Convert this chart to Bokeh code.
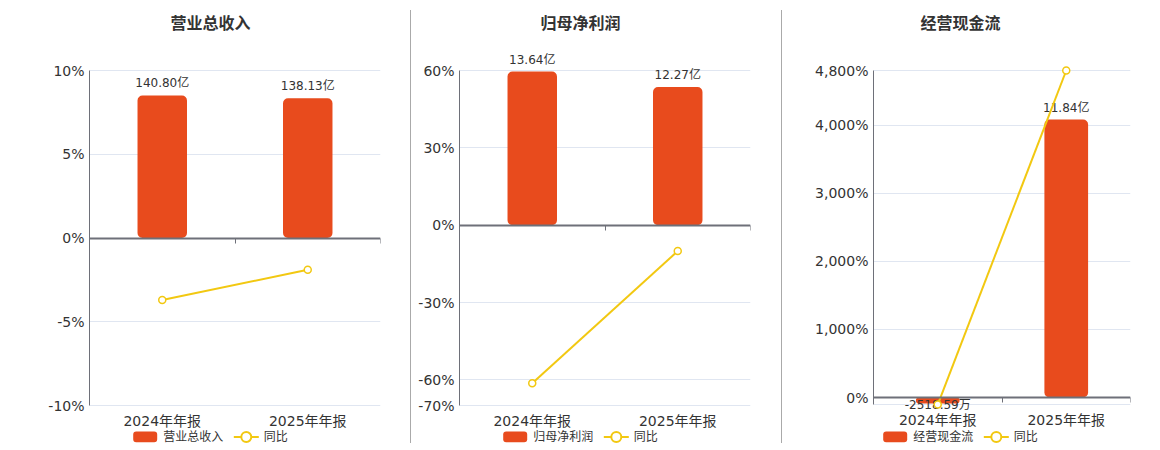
from bokeh.plotting import figure
from bokeh.models import Range1d, LinearAxis, FixedTicker, Div, Grid
from bokeh.layouts import row
from bokeh.embed import file_html
from bokeh.resources import INLINE
from bokeh.core.properties import value

# ---------------- data ----------------
categories = ["2024年年报", "2025年年报"]
yoy_name = "同比"

revenue_title = "营业总收入"
revenue = [140.80, 138.13]
revenue_labels = ["140.80亿", "138.13亿"]
revenue_yoy = [-3.70, -1.90]
revenue_ticks = [-10, -5, 0, 5, 10]
revenue_tick_labels = ["-10%", "-5%", "0%", "5%", "10%"]

profit_title = "归母净利润"
profit = [13.64, 12.27]
profit_labels = ["13.64亿", "12.27亿"]
profit_yoy = [-61.3, -10.04]
profit_ticks = [-70, -60, -30, 0, 30, 60]
profit_tick_labels = ["-70%", "-60%", "-30%", "0%", "30%", "60%"]

cashflow_title = "经营现金流"
cashflow = [-0.2519, 11.84]
cashflow_labels = ["-2518.59万", "11.84亿"]
cashflow_yoy = [-103.0, 4800.0]
cashflow_ticks = [0, 1000, 2000, 3000, 4000, 4800]
cashflow_tick_labels = ["0%", "1,000%", "2,000%", "3,000%", "4,000%", "4,800%"]

# ---------------- style ----------------
BAR_COLOR = "#E84B1D"
LINE_COLOR = "#F2C811"
AXIS_COLOR = "#6E7079"
GRID_COLOR = "#E0E6F1"
TEXT_COLOR = "#333333"
FONT = "DejaVu Sans, Noto Sans CJK SC"
FIG_H = 448
FRAME_TOP_PX = 0
FRAME_BOT_PX = 448
PLOT_TOP_PX = 70


def build_panel(title, bars, bar_labels, yoy, ticks, tick_labels,
                fig_left, fig_w, frame_left, frame_right,
                y_top, zero_px, y_bottom, bar_top, title_cx, legend_left):
    ppu = (zero_px - PLOT_TOP_PX) / y_top

    def yv(page_y):
        return (zero_px - page_y) / ppu

    def xv(page_x):
        return (page_x - frame_left) / (frame_right - frame_left) * 2.0

    y0, y1 = yv(FRAME_BOT_PX), yv(FRAME_TOP_PX)
    k = bar_top / y_top
    p = figure(width=fig_w, height=FIG_H, x_range=Range1d(0, 2), y_range=Range1d(y0, y1),
               output_backend="svg", toolbar_location=None,
               x_axis_type=None, y_axis_type=None,
               min_border_left=frame_left - fig_left,
               min_border_right=fig_left + fig_w - frame_right,
               min_border_top=0, min_border_bottom=0)
    p.outline_line_color = None
    p.extra_y_ranges = {"bar": Range1d(y0 * k, y1 * k)}

    grid_ticks = sorted(set(ticks + [y_bottom]))
    p.add_layout(Grid(dimension=1, ticker=FixedTicker(ticks=grid_ticks),
                      grid_line_color=GRID_COLOR, grid_line_width=1))

    yax = LinearAxis(ticker=FixedTicker(ticks=ticks), bounds=(y_bottom, y_top),
                     major_label_overrides={t: l for t, l in zip(ticks, tick_labels)})
    yax.axis_line_color = AXIS_COLOR
    yax.axis_line_width = 1
    yax.major_tick_line_color = None
    yax.major_tick_out = 0
    yax.major_tick_in = 0
    yax.minor_tick_line_color = None
    yax.major_label_standoff = 5
    yax.major_label_text_font = FONT
    yax.major_label_text_font_size = "14px"
    yax.major_label_text_color = TEXT_COLOR
    p.add_layout(yax, "left")

    xs = [0.5, 1.5]
    xax = LinearAxis(fixed_location=y_bottom, ticker=FixedTicker(ticks=xs),
                     major_label_overrides={x: c for x, c in zip(xs, categories)})
    xax.axis_line_color = None
    xax.major_tick_line_color = None
    xax.minor_tick_line_color = None
    xax.major_label_standoff = 1
    xax.major_label_text_font = FONT
    xax.major_label_text_font_size = "14px"
    xax.major_label_text_color = TEXT_COLOR
    p.add_layout(xax, "below")

    p.vbar(x=xs, top=bars, bottom=0, width=0.34, y_range_name="bar",
           fill_color=BAR_COLOR, line_color=None, border_radius=5)

    zax = LinearAxis(fixed_location=0, ticker=FixedTicker(ticks=[0, 1, 2]),
                     major_label_overrides={0: "", 1: "", 2: ""})
    zax.axis_line_color = AXIS_COLOR
    zax.axis_line_width = 2
    zax.major_tick_line_color = AXIS_COLOR
    zax.major_tick_out = 5
    zax.major_tick_in = 0
    zax.minor_tick_line_color = None
    zax.major_label_text_font_size = "1px"
    p.add_layout(zax, "below")

    pos = [i for i, v in enumerate(bars) if v >= 0]
    neg = [i for i, v in enumerate(bars) if v < 0]
    if pos:
        p.text(x=[xs[i] for i in pos], y=[bars[i] for i in pos], text=[bar_labels[i] for i in pos],
               y_range_name="bar", y_offset=-5, text_align="center", text_baseline="bottom",
               text_font=value(FONT), text_font_size="12px", text_color=TEXT_COLOR)
    if neg:
        p.text(x=[xs[i] for i in neg], y=[bars[i] for i in neg], text=[bar_labels[i] for i in neg],
               y_range_name="bar", y_offset=-5, text_align="center", text_baseline="top",
               text_font=value(FONT), text_font_size="12px", text_color=TEXT_COLOR)

    p.line(x=xs, y=yoy, line_color=LINE_COLOR, line_width=2)
    p.scatter(x=xs, y=yoy, size=7, marker="circle", fill_color="white",
              line_color=LINE_COLOR, line_width=1.5)

    # title
    p.text(x=[xv(title_cx)], y=[yv(23)], text=[title], text_align="center", text_baseline="middle",
           text_font=value(FONT), text_font_size="16px", text_font_style="bold", text_color=TEXT_COLOR)

    # legend
    L = legend_left
    ly = yv(436.5)
    p.quad(left=[xv(L)], right=[xv(L + 24)], top=[yv(431)], bottom=[yv(441.7)],
           fill_color=BAR_COLOR, line_color=None, border_radius=3)
    p.text(x=[xv(L + 30)], y=[ly], text=[title], text_align="left", text_baseline="middle",
           text_font=value(FONT), text_font_size="12px", text_color=TEXT_COLOR)
    p.line(x=[xv(L + 100.6), xv(L + 125.6)], y=[ly, ly], line_color=LINE_COLOR, line_width=2)
    p.scatter(x=[xv(L + 113.1)], y=[ly], size=10, marker="circle", fill_color="white",
              line_color=LINE_COLOR, line_width=2)
    p.text(x=[xv(L + 130.6)], y=[ly], text=[yoy_name], text_align="left", text_baseline="middle",
           text_font=value(FONT), text_font_size="12px", text_color=TEXT_COLOR)
    return p


p1 = build_panel(revenue_title, revenue, revenue_labels, revenue_yoy,
                 revenue_ticks, revenue_tick_labels,
                 fig_left=0, fig_w=410, frame_left=89, frame_right=380,
                 y_top=10, zero_px=237.5, y_bottom=-10, bar_top=165.5,
                 title_cx=210, legend_left=132.7)
p2 = build_panel(profit_title, profit, profit_labels, profit_yoy,
                 profit_ticks, profit_tick_labels,
                 fig_left=411, fig_w=370, frame_left=459, frame_right=750,
                 y_top=60, zero_px=224.7, y_bottom=-70, bar_top=13.73,
                 title_cx=580, legend_left=502.7)
p3 = build_panel(cashflow_title, cashflow, cashflow_labels, cashflow_yoy,
                 cashflow_ticks, cashflow_tick_labels,
                 fig_left=782, fig_w=370, frame_left=873, frame_right=1130,
                 y_top=4800, zero_px=397, y_bottom=-110, bar_top=13.93,
                 title_cx=960, legend_left=882.7)


def separator():
    return Div(text="", width=1, height=433, margin=(10, 0, 0, 0),
               styles={"background-color": "#aaaaaa"})


layout = row(p1, separator(), p2, separator(), p3)
open("out.html", "w").write(file_html(layout, INLINE))
